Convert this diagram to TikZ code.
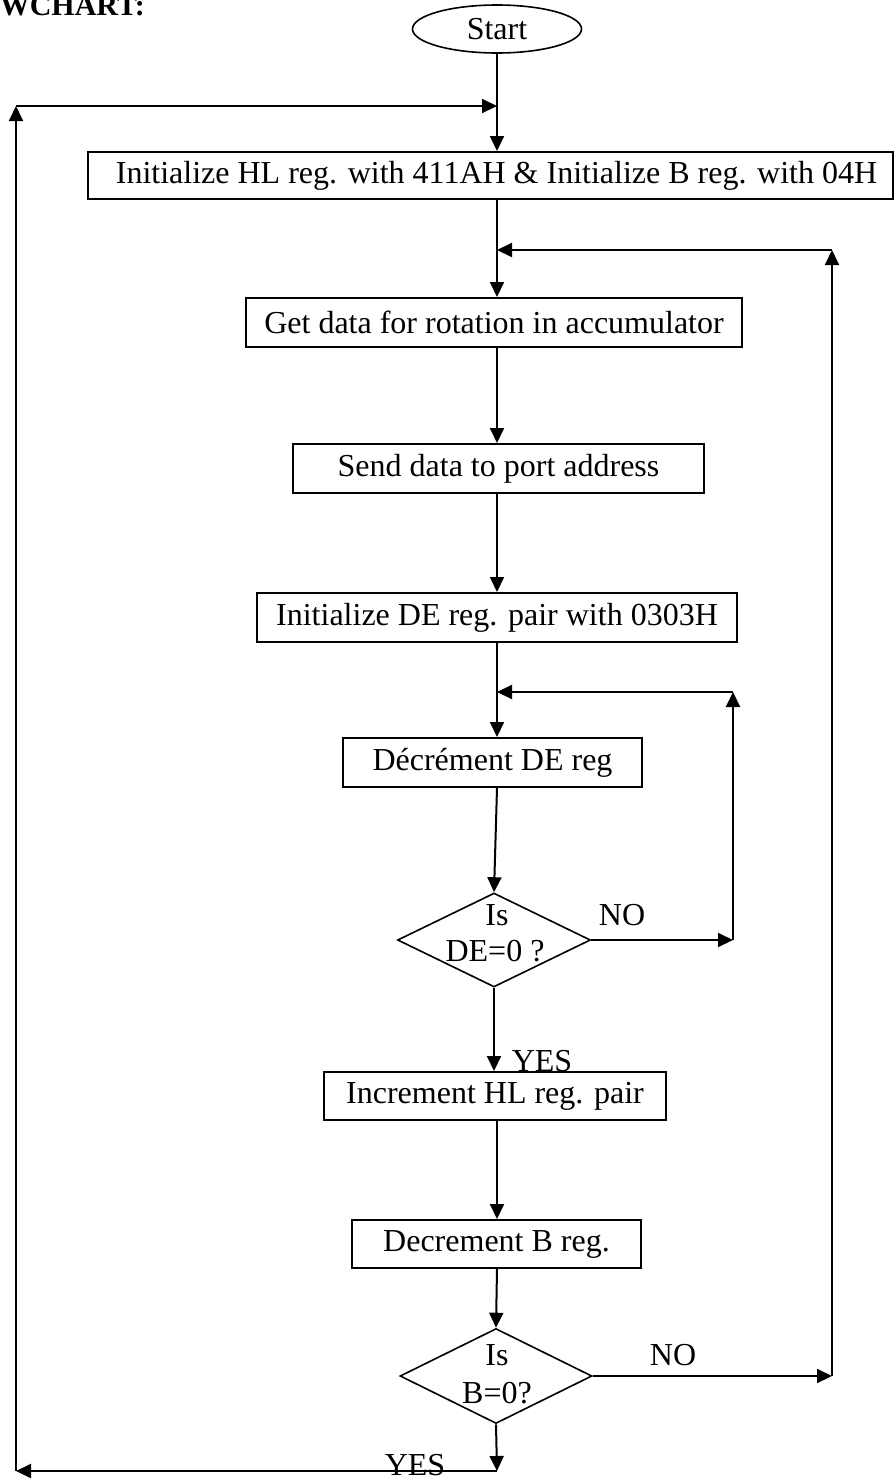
\documentclass[tikz,border=0pt]{standalone}
\usepackage{fontspec}
\setmainfont{Liberation Serif}
\usetikzlibrary{arrows.meta,shapes.geometric}
\begin{document}
\begin{tikzpicture}[x=1pt,y=-1pt,
  every node/.style={font=\fontsize{32}{38}\selectfont},
  stepbox/.style={draw,line width=2pt,rectangle,inner sep=0pt},
  decision/.style={draw,line width=1.6pt,diamond,inner sep=0pt},
  terminal/.style={draw,line width=1.6pt,ellipse,inner sep=0pt,
    minimum width=169pt,minimum height=48pt},
  flow/.style={line width=2pt,-{Triangle[length=15pt,width=14pt]}},
  lbl/.style={anchor=base,inner sep=0pt}]
\useasboundingbox (0,0) rectangle (895,1483);

% heading, cut by the top edge of the page
\node[lbl,anchor=base east,font=\bfseries\fontsize{30}{36}\selectfont] (head) at (145,15) {FLOWCHART:};

% main column
\coordinate (spine) at (497,0);
\node[terminal] (start) at (497,29) {Start};
\node[stepbox,minimum width=805pt,minimum height=47pt] (b1) at (490.5,175.5)
  {\hspace*{12pt}Initialize HL reg. with 411AH \& Initialize B reg. with 04H};
\node[stepbox,minimum width=496pt,minimum height=49pt] (b2) at (494,322.5)
  {Get data for rotation in accumulator};
\node[stepbox,minimum width=411pt,minimum height=49pt] (b3) at (498.5,468.5)
  {Send data to port address};
\node[stepbox,minimum width=480pt,minimum height=49pt] (b4) at (497,617.5)
  {Initialize DE reg. pair with 0303H};
\node[stepbox,minimum width=299pt,minimum height=49pt] (b5) at (492.5,762.5)
  {Décrément DE reg};
\node[decision,minimum width=193pt,minimum height=94pt] (d1) at (494,940) {};
\node[stepbox,minimum width=342pt,minimum height=48pt] (b6) at (495,1096)
  {Increment HL reg. pair};
\node[stepbox,minimum width=289pt,minimum height=48pt] (b7) at (496.5,1244)
  {Decrement B reg.};
\node[decision,minimum width=192pt,minimum height=95pt] (d2) at (496,1376) {};

% texts of the decisions and branch labels
\node[lbl] (d1a) at (497,925) {Is};
\node[lbl] (d1b) at (495,961) {DE=0 ?};
\node[lbl] (d2a) at (497,1365) {Is};
\node[lbl] (d2b) at (497,1403) {B=0?};
\node[lbl] (no1) at (622,925) {NO};
\node[lbl] (no2) at (673,1365) {NO};
\node[lbl] (yes1) at (542,1071) {YES};
\node[lbl] (yes2) at (415,1475) {YES};

% corner points of the loops
\coordinate (ljoin) at (497,106);
\coordinate (lefttop) at (16,106);
\coordinate (leftbot) at (16,1471);
\coordinate (botmid) at (497,1471);
\coordinate (rjoin) at (497,250);
\coordinate (righttop) at (832,250);
\coordinate (rightbot) at (832,1376);
\coordinate (ijoin) at (497,692);
\coordinate (innertop) at (733,692);
\coordinate (innerbot) at (733,940);

% straight flow
\draw[flow] (start.south) -- (b1.north -| spine);
\draw[flow] (b1.south -| spine) -- (b2.north -| spine);
\draw[flow] (b2.south -| spine) -- (b3.north -| spine);
\draw[flow] (b3.south -| spine) -- (b4.north -| spine);
\draw[flow] (b4.south -| spine) -- (b5.north -| spine);
\draw[flow] (b5.south -| spine) -- (d1.north);
\draw[flow] (d1.south) -- (b6.north -| d1.south);
\draw[flow] (b6.south -| spine) -- (b7.north -| spine);
\draw[flow] (b7.south -| spine) -- (d2.north);

% delay loop
\draw[flow] (d1.east) -- (innerbot);
\draw[flow] (innerbot) -- (innertop);
\draw[flow] (innertop) -- (ijoin);

% count loop
\draw[flow] (d2.east) -- (rightbot);
\draw[flow] (rightbot) -- (righttop);
\draw[flow] (righttop) -- (rjoin);

% restart loop
\draw[flow] (d2.south) -- (botmid);
\draw[flow] (botmid) -- (leftbot);
\draw[flow] (leftbot) -- (lefttop);
\draw[flow] (lefttop) -- (ljoin);
\end{tikzpicture}
\end{document}
